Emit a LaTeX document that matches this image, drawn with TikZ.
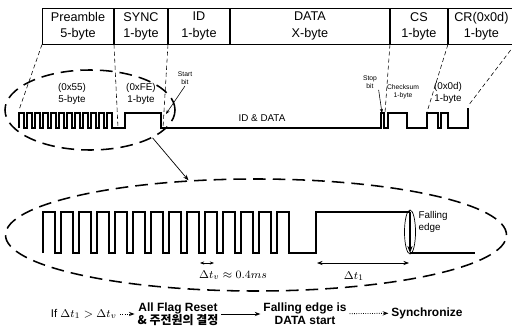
\documentclass[tikz,border=0pt]{standalone}
\usepackage{amsmath,amssymb}
\usepackage{fontspec}
\setmainfont{Liberation Sans}
\newfontfamily\kofont{Noto Sans CJK KR}
\usepackage{tikz}
\usetikzlibrary{arrows.meta,positioning,calc,shapes.geometric}

\begin{document}
\begin{tikzpicture}[
  x=0.025cm, y=-0.025cm,
  font=\footnotesize,
  cell/.style={draw, line width=0.7pt, minimum height=36*\u cm, inner sep=0pt, align=center, anchor=west, font=\fontsize{9}{11.5}\selectfont},
  proj/.style={line width=0.4pt, dash pattern=on 3pt off 2pt},
  zoomring/.style={draw, ellipse, line width=1.1pt, dash pattern=on 9pt off 5pt, inner sep=0pt},
  wave/.style={line width=0.8pt, line join=miter},
  lbl/.style={align=center, inner sep=1pt, font=\fontsize{7}{8}\selectfont},
  tiny/.style={align=center, inner sep=1pt, font=\fontsize{4.8}{5.5}\selectfont},
  flow/.style={align=center, inner sep=2pt, font=\fontsize{8}{9}\selectfont},
  flowb/.style={flow, font=\fontsize{8.5}{9}\selectfont\bfseries},
  dotarrow/.style={densely dotted, line width=0.6pt, -{Stealth[length=4pt]}},
]
\def\u{0.025} % 1 px
\useasboundingbox (0,0) rectangle (512,328);
% frame layout
\node[cell, minimum width=71*\u cm] (pre) at (42,26) {Preamble\\5-byte};
\node[cell, minimum width=53*\u cm] (sync) at (pre.east) {SYNC\\1-byte};
\node[cell, minimum width=61*\u cm] (id) at (sync.east) {ID\\1-byte};
\node[cell, minimum width=159*\u cm] (data) at (id.east) {DATA\\X-byte};
\node[cell, minimum width=57*\u cm] (cs) at (data.east) {CS\\1-byte};
\node[cell, minimum width=66*\u cm] (cr) at (cs.east) {CR(0x0d)\\1-byte};
% received signal (small)
\coordinate (pa) at (19,110);
\coordinate (pb) at (118,128);
\coordinate (pc) at (163,128);
\coordinate (pd) at (385,113);
\coordinate (pe) at (427,112);
\coordinate (pf) at (468,106);
\draw[wave] (19,128) \foreach \k in {0,...,11}{ -- ++(0,-15) -- ++(5,0) -- ++(0,15) -- ++(3,0) }
  -- (125,128) -- (125,113) -- (161,113) -- (161,128) -- (381,128)
  -- (381,113) -- (384,113) -- (384,128) -- (388,128) -- (388,113) -- (407,113) -- (407,128)
  -- (427,128) -- (427,113) -- (438,113) -- (438,128) -- (441,128) -- (441,113) -- (448,113)
  -- (448,128) -- (468,128) -- (468,108);
\foreach \c/\p in {pre.south west/pa, pre.south east/pb, sync.south east/pc, data.south east/pd, cs.south east/pe, cr.south east/pf}{
  \draw[proj] (\c) -- (\p);
}
\node[lbl] (n55) at (72,94) {(0x55)\\5-byte};
\node[lbl] (nfe) at (141,94) {(0xFE)\\1-byte};
\node[lbl] (idd) at (262,118) {ID \& DATA};
\node[tiny] (chk) at (403,92) {Checksum\\1-byte};
\node[lbl] (n0d) at (448,93) {(0x0d)\\1-byte};
\node[tiny] (stb) at (185,78) {Start\\bit};
\node[tiny] (spb) at (370,82) {Stop\\bit};
\coordinate (stbend) at (166,114);
\coordinate (spbend) at (382,113);
\draw[line width=0.4pt, -{Stealth[length=3pt]}] (stb.south) -- (stbend);
\draw[line width=0.4pt, -{Stealth[length=3pt]}] (spb.south east) -- (spbend);
% zoom rings
\node[zoomring, minimum width=170*\u cm, minimum height=80*\u cm] (smallzoom) at (90,110) {};
\node[zoomring, minimum width=501*\u cm, minimum height=112*\u cm] (bigzoom) at (256,235) {};
\draw[line width=0.5pt, -{Stealth[length=4pt]}] (smallzoom.-24) -- (bigzoom.141);
% received signal (zoomed)
\draw[wave] (43,253) \foreach \k in {0,...,13}{ -- ++(0,-41) -- ++(12,0) -- ++(0,41) -- ++(6,0) }
  -- (316,253) -- (316,212) -- (410,212);
\coordinate (ftop) at (410,212);
\coordinate (fbot) at (410,253);
\coordinate (lowend) at (475,253);
\draw[wave, -{Stealth[length=5pt]}] (ftop) -- (fbot);
\draw[wave] (fbot) -- (lowend);
\node[draw, ellipse, line width=0.5pt, minimum width=11*\u cm, minimum height=44*\u cm, inner sep=0pt] (fedge) at (410,232) {};
\node[lbl, anchor=west, align=left] (fel) at (417,222) {Falling\\edge};
% time marks
\coordinate (tva) at (200,263);
\coordinate (tvb) at (214,263);
\draw[line width=0.5pt, {Stealth[length=3pt]}-{Stealth[length=3pt]}] (tva) -- (tvb);
\node[flow] (tvl) at (233,275) {$\Delta t_v \approx 0.4ms$};
\coordinate (t1a) at (317,263);
\coordinate (t1b) at (409,263);
\draw[line width=0.5pt, {Stealth[length=4pt]}-{Stealth[length=4pt]}] (t1a) -- (t1b);
\node[flow] (t1l) at (354,276) {$\Delta t_1$};
% decision flow
\node[flow] (cond) at (84,314) {If $\Delta t_1 > \Delta t_v$};
\node[flowb] (reset) at (178,314) {All Flag Reset\\{\kofont\& 주전원의 결정}};
\node[flowb] (dstart) at (305,314) {Falling edge is\\DATA start};
\node[flowb] (synch) at (427,313) {Synchronize};
\draw[dotarrow] (cond) -- (reset);
\draw[line width=0.6pt, -{Stealth[length=4pt]}] (reset) -- (dstart);
\draw[dotarrow] (dstart) -- (synch);
\end{tikzpicture}
\end{document}
